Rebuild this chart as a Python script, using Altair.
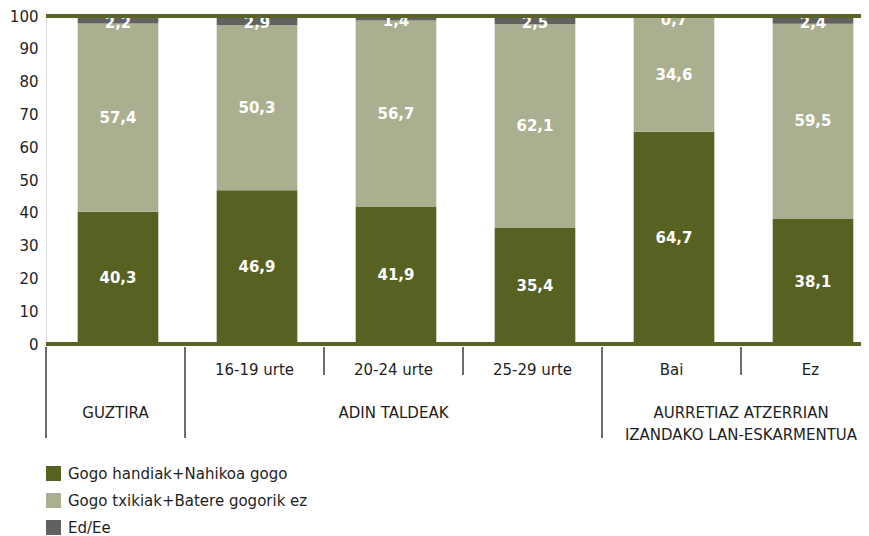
import altair as alt
import pandas as pd

# ---- data ----
categories = ["GUZTIRA", "16-19 urte", "20-24 urte", "25-29 urte", "Bai", "Ez"]
row1_labels = ["", "16-19 urte", "20-24 urte", "25-29 urte", "Bai", "Ez"]
series_names = ["Gogo handiak+Nahikoa gogo", "Gogo txikiak+Batere gogorik ez", "Ed/Ee"]
high = [40.3, 46.9, 41.9, 35.4, 64.7, 38.1]
low = [57.4, 50.3, 56.7, 62.1, 34.6, 59.5]
nr = [2.2, 2.9, 1.4, 2.5, 0.7, 2.4]
y_ticks = [0, 10, 20, 30, 40, 50, 60, 70, 80, 90, 100]
colors = ["#566122", "#aab08f", "#616161"]

group_center = [("GUZTIRA", "GUZTIRA"), ("20-24 urte", "ADIN TALDEAK")]
group_edge = [("Ez", "AURRETIAZ ATZERRIAN\nIZANDAKO LAN-ESKARMENTUA")]
long_dividers = ["GUZTIRA", "16-19 urte", "Bai"]
short_dividers = ["20-24 urte", "25-29 urte", "Ez"]

rows = []
for i, c in enumerate(categories):
    for k, vals in enumerate([high, low, nr]):
        rows.append({"cat": c, "series": series_names[k], "ord": k,
                     "value": vals[i], "label": f"{vals[i]:.1f}".replace(".", ",")})
df = pd.DataFrame(rows)

FONT = "DejaVu Sans"
FS = 15
TXT = "#1e1e1e"
LINE = "#5a6324"

xscale = alt.Scale(domain=categories, range=[0, 834], paddingInner=0, paddingOuter=0)
yscale = alt.Scale(domain=[0, 100], nice=False, zero=True)
yaxis = alt.Axis(values=y_ticks, tickCount=11, domain=False, ticks=False,
                 grid=False, labelFontSize=FS, labelColor=TXT, labelFont=FONT,
                 labelPadding=8, labelOverlap=False, title=None)

base = alt.Chart(df).transform_stack(
    stack="value", groupby=["cat"], as_=["v0", "v1"],
    sort=[alt.SortField("ord", order="ascending")]
).transform_calculate(mid="(datum.v0 + datum.v1) / 2")

bars = base.mark_bar(width=alt.RelativeBandSize(0.58), xOffset=2.5).encode(
    x=alt.X("cat:N", scale=xscale, axis=None, sort=categories),
    y=alt.Y("v0:Q", scale=yscale, axis=yaxis),
    y2="v1:Q",
    color=alt.Color("series:N", scale=alt.Scale(domain=series_names, range=colors),
                    legend=alt.Legend(orient="none", legendX=0, legendY=450, title=None,
                                      symbolType="square", symbolSize=225,
                                      symbolStrokeWidth=0, labelFontSize=FS,
                                      labelFont=FONT, labelColor=TXT, rowPadding=11,
                                      labelOffset=7, padding=0, direction="vertical",
                                      labelLimit=400)),
)

labels_main = base.transform_filter("datum.ord < 2").mark_text(
    color="white", fontWeight="bold", fontSize=FS, font=FONT,
    baseline="middle", xOffset=2.5).encode(
    x=alt.X("cat:N", scale=xscale, axis=None, sort=categories),
    y=alt.Y("mid:Q", scale=yscale, axis=yaxis),
    text="label:N",
)
labels_top = base.transform_filter("datum.ord == 2").mark_text(
    color="white", fontWeight="bold", fontSize=FS, font=FONT,
    baseline="middle", xOffset=2.5, dy=3).encode(
    x=alt.X("cat:N", scale=xscale, axis=None, sort=categories),
    y=alt.Y("mid:Q", scale=yscale, axis=yaxis),
    text="label:N",
)

lines_df = pd.DataFrame({"v": [0, 100]})
hlines = alt.Chart(lines_df).mark_rule(color=LINE, strokeWidth=4).encode(
    y=alt.Y("v:Q", scale=yscale, axis=yaxis),
    x=alt.value(0), x2=alt.value(834),
)

div_long = alt.Chart(pd.DataFrame({"cat": long_dividers})).mark_rule(
    color=TXT, strokeWidth=1.3).encode(
    x=alt.X("cat:N", scale=xscale, axis=None, sort=categories, bandPosition=0),
    y=alt.value(331), y2=alt.value(422),
)
div_short = alt.Chart(pd.DataFrame({"cat": short_dividers})).mark_rule(
    color=TXT, strokeWidth=1.3).encode(
    x=alt.X("cat:N", scale=xscale, axis=None, sort=categories, bandPosition=0),
    y=alt.value(331), y2=alt.value(359),
)

row1 = alt.Chart(pd.DataFrame({"cat": categories, "t": row1_labels})).mark_text(
    fontSize=FS, font=FONT, color=TXT, baseline="middle").encode(
    x=alt.X("cat:N", scale=xscale, axis=None, sort=categories),
    y=alt.value(354), text="t:N",
)

g1 = alt.Chart(pd.DataFrame(group_center, columns=["cat", "t"])).mark_text(
    fontSize=FS, font=FONT, color=TXT, baseline="middle").encode(
    x=alt.X("cat:N", scale=xscale, axis=None, sort=categories),
    y=alt.value(397), text="t:N",
)
g2 = alt.Chart(pd.DataFrame(group_edge, columns=["cat", "t"])).mark_text(
    fontSize=FS, font=FONT, color=TXT, baseline="top", lineBreak="\n",
    lineHeight=22).encode(
    x=alt.X("cat:N", scale=xscale, axis=None, sort=categories, bandPosition=0),
    y=alt.value(390), text="t:N",
)

chart = alt.layer(bars, labels_main, labels_top, hlines, div_long, div_short,
                  row1, g1, g2).properties(
    width=815, height=328,
    autosize=alt.AutoSizeParams(type="none"),
    padding={"left": 38, "top": 8, "right": 0, "bottom": 192},
).configure_view(stroke=None).configure(font=FONT)

chart.save("out.html", embed_options={"renderer": "svg", "actions": False})
